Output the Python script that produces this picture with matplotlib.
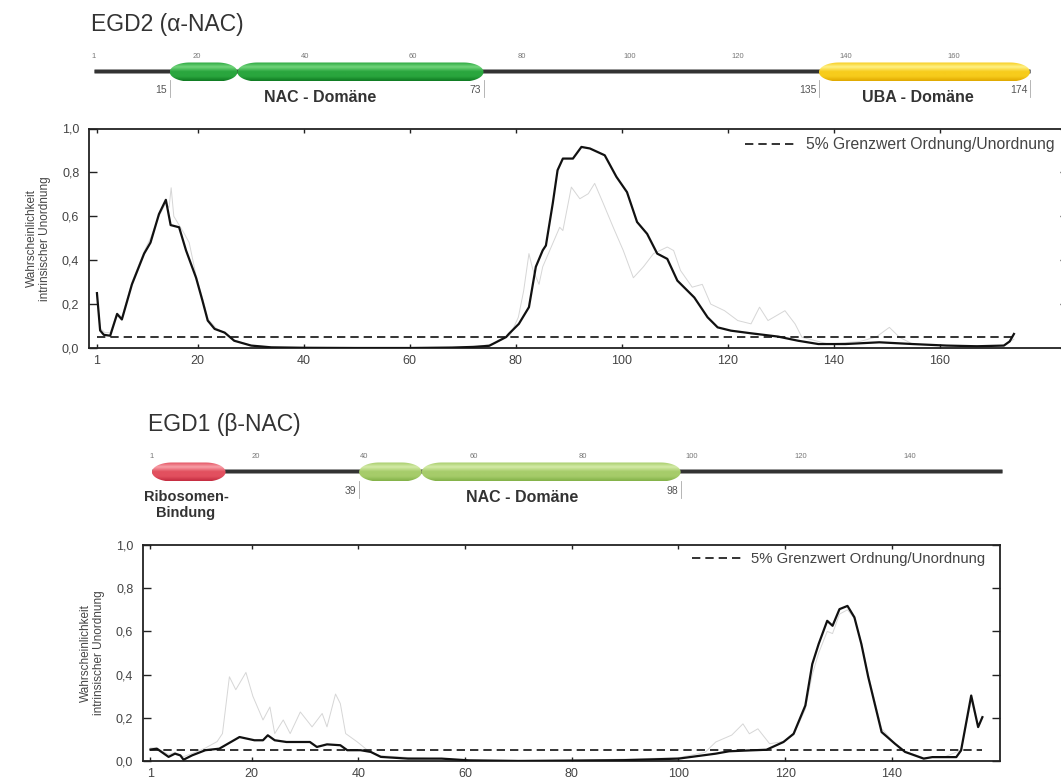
import numpy as np
import matplotlib
matplotlib.use("Agg")
import matplotlib.pyplot as plt
from matplotlib.patches import Polygon
from matplotlib.colors import LinearSegmentedColormap

plt.rcParams['font.family'] = ['Liberation Sans', 'DejaVu Sans']

W, H = 1061, 782

# ---- data ----
threshold = 0.05
legend_label = "5% Grenzwert Ordnung/Unordnung"

# EGD2 (alpha-NAC), 174 residues
egd2_len = 174
egd2_x = [1, 1.6, 2.3, 3.5, 4.8, 5.7, 7.6, 9.9, 11.1, 12.7, 14.0, 14.9, 16.5, 17.8, 19.7,
          20.9, 21.9, 23.2, 25.1, 26.9, 30.1, 33.9, 40, 50, 60, 68, 72, 75, 78.2, 78.7,
          80.6, 82.5, 83.8, 85.1, 85.7, 87, 87.9, 88.9, 90.8, 92.4, 94, 96.8, 99, 101,
          102.9, 104.8, 106.7, 108.6, 110.5, 113.7, 116.2, 118.1, 120.6, 124.4, 129.5,
          133.3, 137.1, 142.2, 148.6, 154.9, 161.3, 167, 172.1, 173.2, 174]
egd2_y = [0.25, 0.08, 0.06, 0.056, 0.155, 0.13, 0.29, 0.43, 0.48, 0.61, 0.675, 0.56, 0.55,
          0.445, 0.32, 0.216, 0.125, 0.087, 0.07, 0.033, 0.011, 0.003, 0.001, 0.0, 0.0,
          0.002, 0.005, 0.01, 0.05, 0.064, 0.11, 0.186, 0.37, 0.445, 0.467, 0.66, 0.81,
          0.863, 0.863, 0.916, 0.909, 0.878, 0.78, 0.71, 0.574, 0.52, 0.43, 0.406, 0.307,
          0.23, 0.14, 0.094, 0.079, 0.067, 0.052, 0.033, 0.018, 0.018, 0.026, 0.018,
          0.011, 0.008, 0.011, 0.03, 0.064]
egd2g_x = [1, 1.6, 2.5, 3.5, 4.8, 5.7, 7.6, 9.9, 11.1, 12.7, 14.0, 14.6, 15.0, 15.5, 16.5,
           17.5, 18.4, 19.7, 21, 22, 23.5, 25, 27, 30, 34, 40, 60, 72, 76, 79, 80.5, 81.5,
           82.5, 83.2, 84.4, 85.1, 88.3, 88.9, 90.5, 92.1, 93.7, 94.9, 96.5, 98.4, 100.3,
           102.2, 104.1, 106, 108.6, 109.8, 111.1, 113.3, 115.2, 116.8, 119.4, 121.9,
           124.4, 126, 127.6, 130.8, 132.7, 134, 139, 145, 148, 150.5, 152.4, 154.9, 160,
           168, 172, 174]
egd2g_y = [0.24, 0.09, 0.07, 0.07, 0.16, 0.14, 0.3, 0.44, 0.5, 0.6, 0.66, 0.64, 0.73, 0.6,
           0.56, 0.52, 0.48, 0.33, 0.22, 0.13, 0.09, 0.07, 0.035, 0.012, 0.004, 0.002, 0.0,
           0.004, 0.02, 0.06, 0.14, 0.26, 0.43, 0.36, 0.29, 0.37, 0.55, 0.535, 0.733, 0.68,
           0.703, 0.75, 0.66, 0.55, 0.444, 0.32, 0.37, 0.43, 0.46, 0.444, 0.353, 0.277,
           0.29, 0.2, 0.17, 0.125, 0.11, 0.186, 0.125, 0.17, 0.11, 0.049, 0.018, 0.03,
           0.05, 0.094, 0.049, 0.018, 0.012, 0.01, 0.012, 0.04]
egd2_ticks = [1, 20, 40, 60, 80, 100, 120, 140, 160]
egd2_bounds = [15, 73, 135, 174]

# EGD1 (beta-NAC), 157 residues
egd1_len = 157
egd1_x = [1, 2.2, 4.4, 5.6, 6.6, 7.2, 8.8, 11.3, 13.9, 17.7, 20.5, 22.1, 23, 24.3, 26.5,
          30.9, 32.2, 34.1, 36.6, 37.9, 40.4, 42.3, 44.2, 49.3, 55.6, 60.7, 70, 80, 90,
          100, 107, 109.5, 113.3, 116.5, 119.7, 121.6, 123.8, 125.1, 126.3, 127.9, 128.9,
          130.2, 131.7, 133, 134.3, 135.6, 138.1, 140.6, 142.5, 146, 147.6, 152.1, 153,
          154.9, 156.2, 157]
egd1_y = [0.053, 0.057, 0.019, 0.034, 0.026, 0.006, 0.026, 0.05, 0.057, 0.111, 0.096,
          0.096, 0.119, 0.096, 0.088, 0.088, 0.065, 0.077, 0.073, 0.05, 0.05, 0.042, 0.019,
          0.011, 0.011, 0.003, 0.0, 0.002, 0.004, 0.011, 0.034, 0.045, 0.049, 0.052, 0.088,
          0.126, 0.257, 0.449, 0.542, 0.649, 0.626, 0.703, 0.718, 0.665, 0.542, 0.388,
          0.134, 0.08, 0.042, 0.011, 0.018, 0.018, 0.049, 0.303, 0.157, 0.203]
egd1g_x = [1, 2.2, 4.4, 5.6, 7.2, 8.8, 11.3, 13.5, 14.5, 15.8, 17, 18.9, 20.2, 22.1, 23.4,
           24.3, 25.9, 27.2, 29.1, 31.3, 33.2, 34.1, 35.7, 36.6, 37.6, 39.8, 41.7, 44, 50,
           60, 80, 100, 105, 107, 110, 112.1, 113.3, 114.9, 117.1, 119.7, 121.6, 123.8,
           125.1, 126.3, 127.9, 128.9, 130.2, 131.7, 133, 134.3, 135.6, 138.1, 140.6,
           142.5, 146, 150, 153, 154.9, 156.2, 157]
egd1g_y = [0.06, 0.06, 0.03, 0.04, 0.02, 0.035, 0.06, 0.09, 0.127, 0.39, 0.33, 0.41, 0.3,
           0.19, 0.25, 0.127, 0.19, 0.127, 0.227, 0.158, 0.22, 0.158, 0.31, 0.266, 0.127,
           0.088, 0.05, 0.025, 0.015, 0.005, 0.003, 0.015, 0.04, 0.088, 0.12, 0.172, 0.126,
           0.149, 0.08, 0.09, 0.12, 0.24, 0.4, 0.5, 0.6, 0.59, 0.68, 0.7, 0.66, 0.55, 0.4,
           0.15, 0.08, 0.045, 0.015, 0.02, 0.05, 0.28, 0.16, 0.2]
egd1_ticks = [1, 20, 40, 60, 80, 100, 120, 140]
egd1_bounds = [39, 98]

yticks = [0.0, 0.2, 0.4, 0.6, 0.8, 1.0]
ytick_labels = ["0,0", "0,2", "0,4", "0,6", "0,8", "1,0"]

# domains: (start, end, edge colour, body colour, highlight colour)
egd2_domains = [(15, 27.5, "#0f7a22", "#2aa63e", "#72d57c"),
                (27.5, 73, "#0f7a22", "#2aa63e", "#72d57c"),
                (135, 174, "#e0a800", "#f7cc1c", "#fff186")]
egd1_domains = [(1, 14.5, "#c42b40", "#e2505f", "#f8a0a8"),
                (39, 50.5, "#82b148", "#a6cc6a", "#d4eba8"),
                (50.5, 98, "#82b148", "#a6cc6a", "#d4eba8")]

fig = plt.figure(figsize=(W / 100, H / 100), dpi=100)


def px_axes(l, t, r, b):
    return fig.add_axes([l / W, 1 - b / H, (r - l) / W, (b - t) / H])


def capsule(ax, r0, r1, yc, h, edge, body, light, scale):
    # rounded bar with elliptic ends; x in residues, y in pixels
    rx = min(20, (r1 - r0) * scale / 2) / scale
    ry = h / 2
    t = np.linspace(-np.pi / 2, np.pi / 2, 40)
    right = np.column_stack([r1 - rx + rx * np.cos(t), yc + ry * np.sin(t)])
    left = np.column_stack([r0 + rx - rx * np.cos(t[::-1]), yc + ry * np.sin(t[::-1])])
    p = Polygon(np.vstack([right, left]), closed=True, fc="none", ec="none", zorder=3)
    ax.add_patch(p)
    cmap = LinearSegmentedColormap.from_list("g", [body, light, body, body, edge])
    grad = np.linspace(0, 1, 64).reshape(-1, 1)
    im = ax.imshow(grad, cmap=cmap, aspect="auto", extent=(r0, r1, yc + ry, yc - ry),
                   zorder=3, interpolation="bilinear")
    im.set_clip_path(p)


def diagram(ax, length, domains, ticks, bounds, yline, scale, tick_y, bound_y):
    ax.plot([1, length], [yline, yline], color="#9a9a9a", lw=3.6, solid_capstyle="butt", zorder=1)
    ax.plot([1, length], [yline, yline], color="#333333", lw=2.2, solid_capstyle="butt", zorder=2)
    for r0, r1, ec, bc, lc in domains:
        capsule(ax, r0, r1, yline + 1, 19, ec, bc, lc, scale)
    for t in ticks:
        ax.text(t, tick_y, str(t), fontsize=5.5, color="#777777", ha="center", va="center")
    for b in bounds:
        ax.plot([b, b], [bound_y - 9, bound_y + 8], color="#aaaaaa", lw=0.6, zorder=2)
        ax.text(b - 0.5, bound_y + 1, str(b), fontsize=7.5, color="#555555",
                ha="right", va="center")


# ---- top diagram (EGD2) ----
s2 = 5.41
axd2 = px_axes(0, 0, W, 118)
axd2.set_xlim(1 - 94 / s2, 1 + (W - 94) / s2)
axd2.set_ylim(118, 0)
axd2.axis("off")
diagram(axd2, egd2_len, egd2_domains, egd2_ticks, egd2_bounds, 71, s2, 56, 89)
axd2.text(0.5, 24, "EGD2 (\u03b1-NAC)", fontsize=16.5, color="#333333", ha="left", va="center")
axd2.text(1 + (320 - 94) / s2, 97, "NAC - Dom\u00e4ne", fontsize=11.5, fontweight="bold",
          color="#333333", ha="center", va="center")
axd2.text(1 + (918 - 94) / s2, 97, "UBA - Dom\u00e4ne", fontsize=11.5, fontweight="bold",
          color="#333333", ha="center", va="center")

# ---- bottom diagram (EGD1) ----
s1 = 5.45
axd1 = px_axes(0, 395, W, 535)
axd1.set_xlim(1 - 152 / s1, 1 + (W - 152) / s1)
axd1.set_ylim(535, 395)
axd1.axis("off")
diagram(axd1, egd1_len, egd1_domains, egd1_ticks, egd1_bounds, 471, s1, 456, 490)
axd1.text(0.3, 424, "EGD1 (\u03b2-NAC)", fontsize=16.5, color="#333333", ha="left", va="center")
axd1.text(1 + (186 - 152) / s1, 505, "Ribosomen-\nBindung", fontsize=10.5, fontweight="bold",
          color="#333333", ha="center", va="center", linespacing=1.2)
axd1.text(1 + (522 - 152) / s1, 498, "NAC - Dom\u00e4ne", fontsize=11.5, fontweight="bold",
          color="#333333", ha="center", va="center")


def profile(ax, xb, yb, xg, yg, length, ticks, xlim):
    ax.plot(xg, yg, color="#d6d6d6", lw=0.7, zorder=2)
    ax.plot(xb, yb, color="#111111", lw=1.6, zorder=3)
    ax.plot([1, length], [threshold, threshold], color="#111111", lw=1.2,
            ls=(0, (5, 3)), zorder=2, label=legend_label)
    ax.set_xlim(*xlim)
    ax.set_ylim(0, 1)
    ax.set_yticks(yticks)
    ax.set_yticklabels(ytick_labels)
    ax.set_xticks(ticks)
    ax.tick_params(axis="both", direction="in", colors="#222222", labelcolor="#444444",
                   labelsize=9, width=1)
    ax.tick_params(axis="y", length=6, pad=7, right=True)
    ax.tick_params(axis="x", length=3, pad=5, top=True)
    for sp in ax.spines.values():
        sp.set_linewidth(1.3)
        sp.set_color("#222222")
    ax.set_ylabel("Wahrscheinlichkeit\nintrinsischer Unordnung", fontsize=8.5,
                  color="#444444", labelpad=8, linespacing=1.1)


ax2 = px_axes(89, 128.5, 1068, 348)
profile(ax2, egd2_x, egd2_y, egd2g_x, egd2g_y, egd2_len, egd2_ticks, (-0.5, 184.2))
ax2.legend(loc="upper left", bbox_to_anchor=(745 / W, 1 - 137 / H), bbox_transform=fig.transFigure,
           frameon=False, fontsize=11.3, handlelength=3.2, handletextpad=0.7,
           borderpad=0, borderaxespad=0, labelcolor="#444444")

ax1 = px_axes(143, 545, 1000, 761)
profile(ax1, egd1_x, egd1_y, egd1g_x, egd1g_y, egd1_len, egd1_ticks, (-0.4, 160.3))
ax1.legend(loc="upper left", bbox_to_anchor=(692 / W, 1 - 552 / H), bbox_transform=fig.transFigure,
           frameon=False, fontsize=10.7, handlelength=3.3, handletextpad=0.7,
           borderpad=0, borderaxespad=0, labelcolor="#444444")

fig.savefig("out.png", dpi=100)
